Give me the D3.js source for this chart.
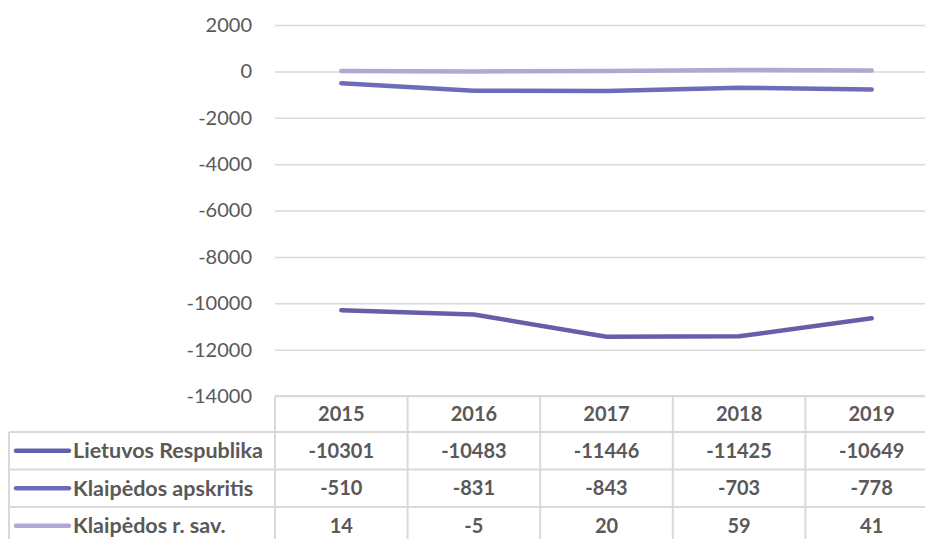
<!DOCTYPE html>
<html>
<head>
<meta charset="utf-8">
<script src="https://cdn.jsdelivr.net/npm/d3@7"></script>
<style>
  body { margin: 0; background: #fff; }
  svg { display: block; font-family: Lato, "Open Sans", sans-serif; }
</style>
</head>
<body>
<svg id="chart"></svg>
<script>
const years = ['2015', '2016', '2017', '2018', '2019'];
const seriesNames = ['Lietuvos Respublika', 'Klaipėdos apskritis', 'Klaipėdos r. sav.'];
const lietuvos = [-10301, -10483, -11446, -11425, -10649];
const apskritis = [-510, -831, -843, -703, -778];
const rajonas = [14, -5, 20, 59, 41];
const seriesColors = ['#645fa8', '#6e6cb8', '#b0a8d3'];
const yTicks = [2000, 0, -2000, -4000, -6000, -8000, -10000, -12000, -14000];

const series = [
    { name: seriesNames[0], values: lietuvos, color: seriesColors[0] },
    { name: seriesNames[1], values: apskritis, color: seriesColors[1] },
    { name: seriesNames[2], values: rajonas, color: seriesColors[2] }
];

const width = 925;
const height = 539;
const plot = { left: 275, right: 938, top: 25, bottom: 396 };
const rowH = 37.5;
const headerH = 36;
const tableLeft = 9;
const gridColor = '#d9d9d9';
const textColor = '#595959';

const svg = d3.select('#chart')
    .attr('width', width)
    .attr('height', height)
    .attr('viewBox', [0, 0, width, height]);

const x = d3.scaleBand()
    .domain(years)
    .range([plot.left, plot.right]);

const y = d3.scaleLinear()
    .domain([-14000, 2000])
    .range([plot.bottom, plot.top]);

// y axis with gridlines (plain hyphen minus like the original)
svg.append('g')
    .attr('transform', `translate(${plot.left},0)`)
    .call(d3.axisLeft(y).tickValues(yTicks).tickSize(0).tickPadding(23).tickFormat(d => String(d)))
    .call(g => g.select('.domain').remove())
    .call(g => g.selectAll('.tick text')
        .attr('fill', textColor)
        .style('font-size', '20px')
        .style('font-family', 'Lato, "Open Sans", sans-serif'))
    .call(g => g.selectAll('.tick line')
        .clone()
        .attr('x2', plot.right - plot.left)
        .attr('stroke', gridColor)
        .attr('stroke-width', 1.5));

// lines
const line = d3.line()
    .x((d, i) => x(years[i]) + x.bandwidth() / 2)
    .y(d => y(d));

svg.append('g')
    .selectAll('path')
    .data(series)
    .join('path')
    .attr('fill', 'none')
    .attr('stroke', d => d.color)
    .attr('stroke-width', 4.5)
    .attr('stroke-linecap', 'round')
    .attr('stroke-linejoin', 'round')
    .attr('d', d => line(d.values));

// data table
const table = svg.append('g');
const rowTop = i => plot.bottom + headerH + i * rowH;
const tableBottom = rowTop(series.length);

// header row
table.append('line')
    .attr('x1', plot.left).attr('x2', plot.right)
    .attr('y1', plot.bottom).attr('y2', plot.bottom)
    .attr('stroke', gridColor).attr('stroke-width', 2);

// row lines
series.forEach((s, i) => {
    table.append('line')
        .attr('x1', tableLeft).attr('x2', plot.right)
        .attr('y1', rowTop(i)).attr('y2', rowTop(i))
        .attr('stroke', gridColor).attr('stroke-width', 2);
});

// vertical lines
table.append('line')
    .attr('x1', tableLeft).attr('x2', tableLeft)
    .attr('y1', rowTop(0)).attr('y2', tableBottom)
    .attr('stroke', gridColor).attr('stroke-width', 2);

table.selectAll('.vline')
    .data(years.concat(['end']))
    .join('line')
    .attr('class', 'vline')
    .attr('x1', (d, i) => i < years.length ? x(d) : x.range()[1])
    .attr('x2', (d, i) => i < years.length ? x(d) : x.range()[1])
    .attr('y1', plot.bottom)
    .attr('y2', tableBottom)
    .attr('stroke', gridColor).attr('stroke-width', 2);

// header text
table.selectAll('.year')
    .data(years)
    .join('text')
    .attr('class', 'year')
    .attr('x', d => x(d) + x.bandwidth() / 2)
    .attr('y', plot.bottom + headerH / 2)
    .attr('dy', '0.35em')
    .attr('text-anchor', 'middle')
    .attr('fill', textColor)
    .style('font-size', '20px')
    .style('font-weight', 'bold')
    .text(d => d);

// rows
const rows = table.selectAll('.row')
    .data(series)
    .join('g')
    .attr('class', 'row')
    .attr('transform', (d, i) => `translate(0,${rowTop(i) + rowH / 2})`);

rows.append('line')
    .attr('x1', 16).attr('x2', 69)
    .attr('stroke', d => d.color)
    .attr('stroke-width', 4.5)
    .attr('stroke-linecap', 'round');

rows.append('text')
    .attr('x', 73)
    .attr('dy', '0.35em')
    .attr('fill', textColor)
    .style('font-size', '21.5px')
    .style('font-weight', 'bold')
    .text(d => d.name);

rows.selectAll('.val')
    .data(d => d.values)
    .join('text')
    .attr('class', 'val')
    .attr('x', (d, i) => x(years[i]) + x.bandwidth() / 2)
    .attr('dy', '0.35em')
    .attr('text-anchor', 'middle')
    .attr('fill', textColor)
    .style('font-size', '20px')
    .style('font-weight', 'bold')
    .text(d => d);
</script>
</body>
</html>
